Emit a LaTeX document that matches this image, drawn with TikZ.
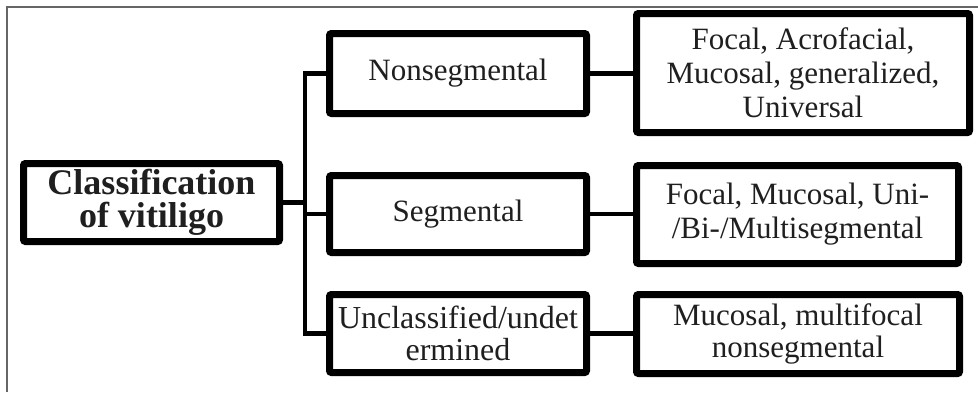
\documentclass[tikz,border=0pt]{standalone}
\usepackage{fontspec}
\setmainfont{Liberation Serif}
\usetikzlibrary{shadows}
\begin{document}
\begin{tikzpicture}[x=1pt,y=-1pt,
  box/.style={draw=black, line width=7pt, fill=white, rounded corners=2pt,
    inner sep=0pt, align=center, text=black!88,
    drop shadow={shadow xshift=2pt, shadow yshift=-3pt, opacity=0.18, fill=black},
    font=\fontsize{31}{34}\selectfont},
  link/.style={line width=4.5pt, line cap=rect, black}]
\useasboundingbox (0,0) rectangle (978,392);
\fill[white] (0,0) rectangle (978,392);
\draw[line width=1.5pt, black!60] (7,392) -- (7,7) -- (978,7);

\node[box, minimum width=256pt, minimum height=78pt,
  font=\bfseries\fontsize{36}{33}\selectfont] (cls) at (151.5,202.5)
  {Classification\\of vitiligo};
\node[box, minimum width=257pt, minimum height=80pt] (nonseg) at (458,73.5) {Nonsegmental};
\node[box, minimum width=257pt, minimum height=77pt] (seg) at (458,214) {Segmental};
\node[box, minimum width=257pt, minimum height=78pt, font=\fontsize{32}{32}\selectfont] (uncl) at (458,333.5) {Unclassified/undet\\ermined};
\node[box, minimum width=333pt, minimum height=119pt] (r1) at (803,73) {Focal, Acrofacial,\\Mucosal, generalized,\\Universal};
\node[box, minimum width=322pt, minimum height=98pt] (r2) at (797.5,214.5) {Focal, Mucosal, Uni-\\/Bi-/Multisegmental};
\node[box, minimum width=323pt, minimum height=79pt, font=\fontsize{31}{32}\selectfont] (r3) at (798,334) {Mucosal, multifocal\\nonsegmental};

\coordinate (bus) at (305,0);
\draw[link] (cls.east) -- (cls.east -| bus);
\draw[link] (bus |- nonseg.west) -- (bus |- uncl.west);
\draw[link] (bus |- nonseg.west) -- (nonseg.west);
\draw[link] (bus |- seg.west) -- (seg.west);
\draw[link] (bus |- uncl.west) -- (uncl.west);
\draw[link] (nonseg.east) -- (r1.west |- nonseg.east);
\draw[link] (seg.east) -- (r2.west |- seg.east);
\draw[link] (uncl.east) -- (r3.west |- uncl.east);
\end{tikzpicture}
\end{document}
